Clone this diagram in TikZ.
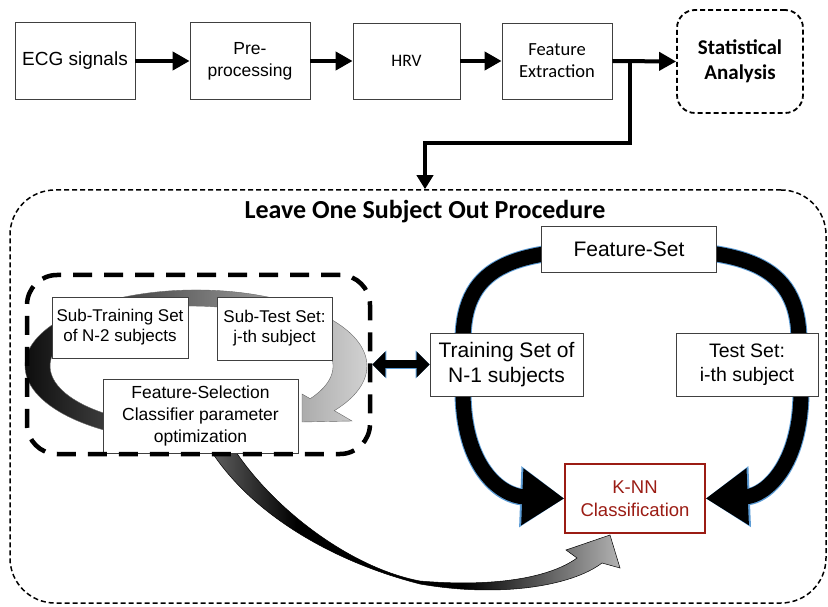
\documentclass[tikz,border=0pt]{standalone}
\usepackage{fontspec}
\setmainfont{Liberation Sans}
\newfontfamily\calibri{Carlito}
\usetikzlibrary{arrows.meta,calc}
\definecolor{ringblue}{RGB}{91,155,213}
\definecolor{knnred}{RGB}{155,28,20}
\pgfdeclarehorizontalshading{botarrow}{100bp}{color(0bp)=(black!60); color(25bp)=(black!60); color(36bp)=(black); color(56bp)=(black); color(75bp)=(black!30); color(100bp)=(black!30)}
\begin{document}
\begin{tikzpicture}[x=1pt,y=1pt,
  box/.style={draw=black!75, line width=0.8pt, fill=white, inner sep=0pt, align=center},
  flow/.style={line width=4pt, -{Triangle[length=17pt,width=18pt]}},
  branchline/.style={line width=4pt, line join=miter, -{Triangle[length=14pt,width=16pt]}},
  ringout/.style={line width=17pt, ringblue},
  ringin/.style={line width=15pt, black},
  headout/.style={-{Triangle[length=44pt,width=58pt]}},
  headin/.style={-{Triangle[length=42pt,width=54pt]}},
  bigdash/.style={draw=black, line width=1.5pt, dash pattern=on 5pt off 3pt},
  subdash/.style={draw=black, line width=4.5pt, dash pattern=on 19pt off 12pt}]
\useasboundingbox (0,0) rectangle (828,606);

% ---- top row ----
\node[box, minimum width=120pt, minimum height=77pt, font=\fontsize{19}{23}\selectfont] (ecg) at (75,545) {ECG signals};
\node[box, minimum width=120pt, minimum height=77pt, font=\fontsize{17.5}{22}\selectfont] (pre) at (250,545) {Pre-\\processing};
\node[box, minimum width=107pt, minimum height=76pt, font=\calibri\fontsize{17.5}{21}\selectfont] (hrv) at (406.5,545) {HRV};
\node[box, minimum width=110pt, minimum height=76pt, font=\calibri\fontsize{18.5}{22}\selectfont] (fe) at (557,545) {Feature\\Extraction};
\node[box, bigdash, line width=1.8pt, rounded corners=18pt, minimum width=126pt, minimum height=103pt, font=\calibri\bfseries\fontsize{21}{25}\selectfont] (sa) at (740,544.5) {Statistical\\Analysis};

\draw[flow] (ecg.east) -- (pre.west);
\draw[flow] (pre.east) -- (hrv.west);
\draw[flow] (hrv.east) -- (fe.west);
\draw[flow] (fe.east) -- (sa.west);

% ---- big procedure box ----
\node[bigdash, rounded corners=45pt, minimum width=816pt, minimum height=413pt, inner sep=0pt] (lso) at (418,209.5) {};
\node[font=\calibri\bfseries\fontsize{26}{30}\selectfont] (title) at (425,394) {Leave One Subject Out Procedure};

\coordinate (br) at (630,545);
\draw[branchline] (br) |- ($(lso.north)+(7,46)$) -- ([xshift=7pt]lso.north);

% ---- inner circular gradient arrow ----
\shade[left color=black, right color=black!18, draw=black!60, line width=0.4pt]
  (110.5,174.2) arc[start angle=240, end angle=-36, x radius=171, y radius=76]
  -- (352,185) -- (302,184) -- (302,212) -- (310.2,207.3)
  arc[start angle=-33, end angle=240, x radius=141.5, y radius=60] -- cycle;

% ---- bottom curved gradient arrow ----
\shade[shading=botarrow, draw=black, line width=0.5pt]
  (205,165) .. controls (245,95) and (330,45) .. (420,22)
  .. controls (500,8) and (572,20) .. (602,43)
  -- (620,38) -- (610,71) -- (566,56) -- (577,48)
  .. controls (548,27) and (490,19) .. (420,25)
  .. controls (350,38) and (268,100) .. (229,165) -- cycle;

% ---- K-NN node ----
\node[box, draw=knnred, line width=1.5pt, text=knnred, minimum width=140pt, minimum height=69pt, font=\fontsize{18.5}{23}\selectfont] (knn) at (635,107.5) {K-NN\\Classification};

% ---- black ring ----
\coordinate (ul) at (463,265);
\coordinate (ur) at (799,265);
\coordinate (ll) at (463,215);
\coordinate (lr) at (801,215);
\draw[ringout] (ul) .. controls (463,345) and (520,357) .. (630,357) .. controls (740,357) and (799,345) .. (ur);
\draw[ringin] (ul) .. controls (463,345) and (520,357) .. (630,357) .. controls (740,357) and (799,345) .. (ur);
\draw[ringout, headout] (ll) .. controls (463,140) and (500,110) .. (knn.west);
\draw[ringin, headin] (ll) .. controls (463,140) and (500,110) .. (knn.west);
\draw[ringout, headout] (lr) .. controls (801,140) and (765,110) .. (knn.east);
\draw[ringin, headin] (lr) .. controls (801,140) and (765,110) .. (knn.east);

% ---- boxes ----
\node[box, minimum width=153pt, minimum height=63pt, font=\fontsize{21}{25}\selectfont] (train) at (506.5,241.5) {Training Set of\\N-1 subjects};
\node[box, minimum width=175pt, minimum height=46pt, font=\fontsize{21}{25}\selectfont] (fset) at (629,356.3) {Feature-Set};
\node[box, minimum width=142pt, minimum height=63pt, font=\fontsize{19.5}{24}\selectfont] (test) at (747,241.5) {Test Set:\\i-th subject};

\node[box, minimum width=136pt, minimum height=61pt, font=\fontsize{17}{20}\selectfont] (subtr) at (120,278.5) {Sub-Training Set\\of N-2 subjects};
\node[box, minimum width=115pt, minimum height=63pt, font=\fontsize{17}{20}\selectfont] (subte) at (274.5,277.5) {Sub-Test Set:\\j-th subject};
\node[box, minimum width=195pt, minimum height=74pt, font=\fontsize{17.5}{22}\selectfont] (fsel) at (200.5,190) {Feature-Selection\\Classifier parameter\\optimization};

% ---- inner dashed box ----
\node[subdash, rounded corners=30pt, minimum width=343pt, minimum height=179pt, inner sep=0pt] (sub) at (198.5,241.5) {};

% ---- double arrow ----
\draw[line width=9.5pt, ringblue, {Triangle[length=14pt,width=27pt]}-{Triangle[length=14pt,width=27pt]}] (sub.east) -- (train.west);
\draw[line width=8pt, black, {Triangle[length=13pt,width=25pt]}-{Triangle[length=13pt,width=25pt]}] (sub.east) -- (train.west);
\end{tikzpicture}
\end{document}
